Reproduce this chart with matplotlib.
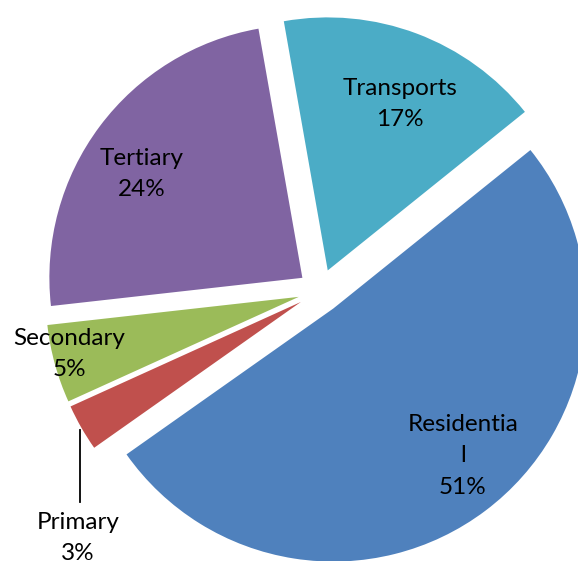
import matplotlib.pyplot as plt

# energy use by sector, clockwise from the top
sectors = ['Transports', 'Residential', 'Primary', 'Secondary', 'Tertiary']
shares = [17, 51, 3, 5, 24]
label_text = ['Transports', 'Residentia\nl', 'Primary', 'Secondary', 'Tertiary']

colors = ['#4BACC6', '#4F81BD', '#C0504D', '#9BBB59', '#8064A2']

W, H = 578, 561
fig = plt.figure(figsize=(W / 100, H / 100), dpi=100)
ax = fig.add_axes([0, 0, 1, 1])

# work in pixel-like units, y pointing up
cx, cy = 320, H - 291
radius = 253
gap = 22

wedges, _ = ax.pie(shares, colors=colors, startangle=100, counterclock=False,
                   center=(cx, cy), radius=radius, explode=[gap] * len(shares),
                   wedgeprops=dict(linewidth=0))

ax.set_xlim(0, W)
ax.set_ylim(0, H)
ax.set_aspect('equal')
ax.axis('off')

# label anchor points (pixel coords from top-left)
label_pos = [(400, 104), (463, 456), (78, 538), (69, 354), (142, 174)]

for name, val, (px, py) in zip(label_text, shares, label_pos):
    ax.text(px, H - py, f'{name}\n{val}%', ha='center', va='center',
            fontsize=17.5, family='Lato', linespacing=1.62, color='black')

# leader line for the small Primary slice
ax.plot([80, 80], [H - 430, H - 502], color='black', lw=1.3)

fig.savefig('out.png', dpi=100)
